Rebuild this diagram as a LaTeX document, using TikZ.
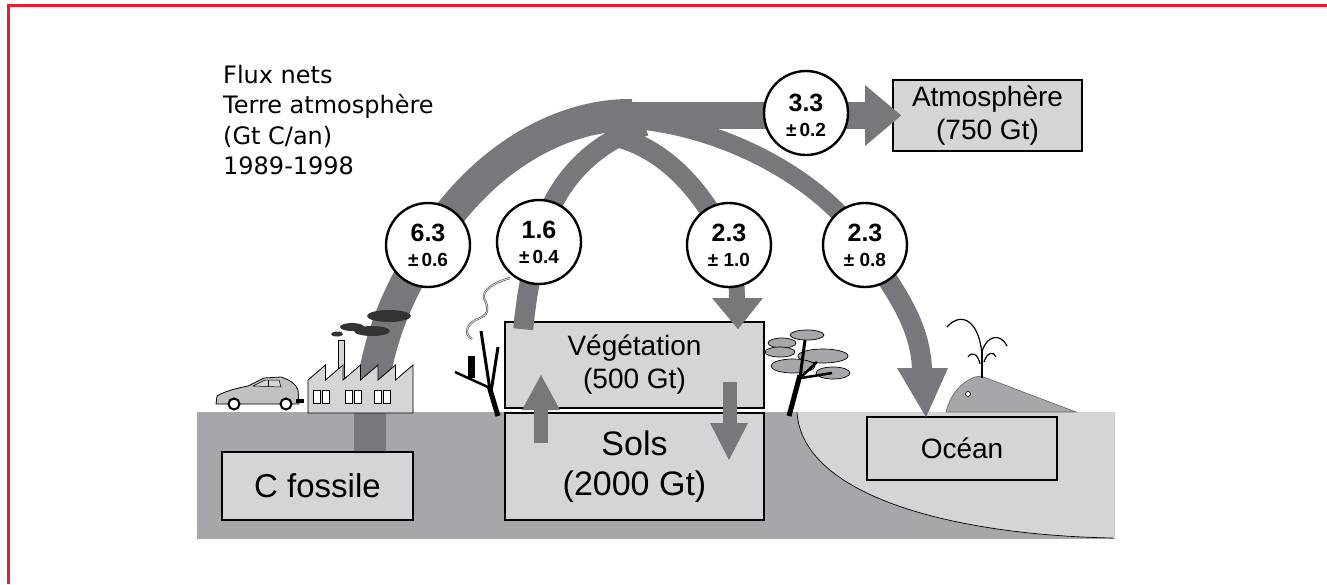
\documentclass[tikz,border=0pt]{standalone}
\usepackage{fontspec}
\setmainfont{Liberation Sans}
\newfontfamily\djv{DejaVu Sans}
\usetikzlibrary{calc}
\definecolor{flowc}{HTML}{77787B}
\definecolor{grnd}{HTML}{A6A7AA}
\definecolor{lgr}{HTML}{D4D5D7}
\definecolor{redf}{HTML}{EC1C2E}
\definecolor{smk}{HTML}{333333}
\begin{document}
\begin{tikzpicture}[x=1pt,y=-1pt,
  box/.style={draw=black, line width=1.6pt, fill=lgr, inner sep=0pt, align=center},
  bubble/.style={circle, draw=black, line width=2.4pt, fill=white, minimum size=84pt, inner sep=0pt},
  band/.style={draw=flowc, line cap=butt, line join=round},
  head/.style={fill=flowc},
  numtxt/.style={inner sep=0pt, font=\fontsize{25}{28}\selectfont\bfseries},
  errtxt/.style={inner sep=0pt, font=\fontsize{19}{22}\selectfont\bfseries},
  leaf/.style={fill=grnd, draw=black, line width=0.7pt}
]
\useasboundingbox (0,0) rectangle (1327,584);
\fill[white] (0,0) rectangle (1327,584);
% red frame
\draw[redf, line width=2.6pt] (7,5.6) -- (1327,5.6);
\draw[redf, line width=2.6pt] (8.3,4.3) -- (8.3,584);

% ground and ocean
\fill[grnd] (197,412) rectangle (1115,539);
\fill[lgr] (797,412) -- (1115,412) -- (1115,538) -- (1113,538) .. controls (950,535) and (802,495) .. (797,412) -- cycle;
\draw[black, line width=0.7pt] (797,412) .. controls (802,495) and (950,535) .. (1113,538);

% circle centres
\coordinate (p63) at (428,245);
\coordinate (p16) at (539,242);
\coordinate (p23a) at (729,245);
\coordinate (p23b) at (865,245);
\coordinate (p33) at (806,113);

% boxes
\node[box, minimum width=191pt, minimum height=68pt, font=\fontsize{33}{38}\selectfont] (fos) at (317.5,486) {C fossile};
\node[box, minimum width=259pt, minimum height=86pt, font=\fontsize{28}{33}\selectfont] (veg) at (634.5,365) {Végétation\\(500 Gt)};
\node[box, minimum width=259pt, minimum height=107pt, font=\fontsize{34}{40}\selectfont] (sol) at (634.5,466.5) {Sols\\(2000 Gt)};
\node[box, minimum width=190pt, minimum height=63pt, font=\fontsize{28}{33}\selectfont] (oce) at (962,448.5) {Océan};
\node[box, minimum width=189pt, minimum height=71pt, font=\fontsize{28}{33}\selectfont] (atm) at (987.5,115.5) {Atmosphère\\(750 Gt)};

% main flow 6.3 -> 3.3
\draw[band, line width=32pt] ($(fos.north)+(52.5,0)$) -- (370,412) .. controls (375,340) and (400,290) .. (p63) .. controls (480,160) and (560,114) .. (632,115);
\draw[band, line width=27pt] (615,115) -- (866,115);
\fill[head] (865,85) -- ($(atm.west)+(9,0)$) -- (865,146) -- cycle;
% 1.6 branch
\draw[band, line width=20pt] ($(veg.north west)+(19,8)$) .. controls (526,300) and (531,270) .. (p16) .. controls (550,192) and (585,145) .. (645,126);
% 2.3 (1.0) branch
\draw[band, line width=20pt] (612,136) .. controls (660,146) and (700,185) .. (p23a);
\draw[band, line width=16pt] (p23a) .. controls (734,265) and (737,280) .. (737,299);
\fill[head] (712,298) -- (763,298) -- ($(veg.north)+(103.5,8)$) -- cycle;
% 2.3 (0.8) branch
\draw[band, line width=18pt] (645,121) .. controls (735,132) and (825,183) .. (p23b);
\draw[band, line width=20pt] (p23b) .. controls (890,285) and (920,320) .. (922,369);
\fill[head] (897,368) -- (948,368) -- ($(oce.north)+(-36,1)$) -- cycle;
% soil <-> vegetation
\draw[band, line width=14pt] (541,443) -- (541,409);
\fill[head] (522,410) -- (560,410) -- (541,375) -- cycle;
\draw[band, line width=14pt] (730,382) -- (730,424);
\fill[head] (710,423) -- (748,423) -- (729,460) -- cycle;

% factory
\filldraw[fill=lgr, draw=black, line width=0.8pt] (338,340) rectangle (344,380);
\filldraw[fill=lgr, draw=black, line width=0.8pt, line join=miter] (308,413) -- (308,380) -- (325.5,365) -- (325.5,380) -- (343,365) -- (343,380) -- (360.5,365) -- (360.5,380) -- (378,365) -- (378,380) -- (395.5,365) -- (395.5,380) -- (413,365) -- (413,413) -- cycle;
\foreach \wx in {313,322,345,354,374,383}
  \filldraw[fill=white, draw=black, line width=0.9pt] (\wx,390) rectangle ++(7,13);
% smoke
\fill[smk] (337,334) ellipse [x radius=6pt, y radius=2.5pt];
\fill[smk] (352,327) ellipse [x radius=12pt, y radius=4pt];
\fill[smk] (372,331) ellipse [x radius=18pt, y radius=5pt];
\fill[smk] (389,316) ellipse [x radius=22pt, y radius=6pt];

% car
\filldraw[fill=grnd!70!white, draw=black, line width=0.8pt] (216,404) -- (217,396) .. controls (225,391) and (238,388) .. (248,386) -- (264,378) -- (281,377) .. controls (290,380) and (296,384) .. (298,390) -- (299,404) -- cycle;
\filldraw[fill=lgr, draw=black, line width=0.5pt] (253,386) -- (265,380) -- (279,380) -- (281,387) -- cycle;
\draw[black, line width=0.5pt] (268,380) -- (268,387);
\filldraw[fill=white, draw=black, line width=2pt] (234,404) circle [radius=5.5pt];
\filldraw[fill=white, draw=black, line width=2pt] (286,404) circle [radius=5.5pt];
\fill[black] (296,399) rectangle (304,403);

% dead tree and smoke wisp
\draw[black, line width=5pt] (498,416) -- (489,386);
\draw[black, line width=3pt] (490,390) -- (481,331);
\draw[black, line width=3pt] (491,392) -- (498,347);
\draw[black, line width=2.5pt] (490,388) -- (455,372);
\fill[black] (468,356) rectangle (475,378);
\draw[black!75, double=lgr, double distance=1pt, line width=0.5pt] (472,339) .. controls (462,333) and (468,322) .. (480,318) .. controls (492,313) and (486,303) .. (484,298) .. controls (482,290) and (495,282) .. (510,278);

% right tree
\filldraw[leaf] (807,335) ellipse [x radius=17pt, y radius=5pt];
\filldraw[leaf] (782,343) ellipse [x radius=14pt, y radius=5pt];
\filldraw[leaf] (780,352) ellipse [x radius=15pt, y radius=5pt];
\filldraw[leaf] (823,356) ellipse [x radius=25pt, y radius=7pt];
\filldraw[leaf] (793,366) ellipse [x radius=22pt, y radius=7pt];
\filldraw[leaf] (833,373) ellipse [x radius=17pt, y radius=6pt];
\draw[black, line width=5pt] (789,416) -- (800,375);
\draw[black, line width=3pt] (800,378) -- (805,340);
\draw[black, line width=2.5pt] (801,378) -- (832,373);
\draw[black, line width=2.5pt] (800,378) -- (817,362);

% whale
\filldraw[fill=grnd, draw=grnd!60!black, line width=0.6pt] (946,412) .. controls (950,396) and (960,382) .. (975,377) -- (981,376) -- (1076,412) -- cycle;
\filldraw[fill=white, draw=black, line width=0.6pt] (968,394) circle [radius=2.5pt];
\draw[black, line width=1.2pt] (982,378) -- (982,352);
\draw[black, line width=1.2pt] (982,356) .. controls (980,322) and (962,310) .. (947,327);
\draw[black, line width=1.2pt] (982,352) .. controls (986,336) and (1000,332) .. (1007,346);
\draw[black, line width=1.2pt] (980,364) .. controls (978,354) and (972,351) .. (968,357);
\draw[black, line width=1.2pt] (984,362) .. controls (987,352) and (994,351) .. (996,357);

% circles
\node[bubble] (c63) at (p63) {};
\node[bubble] (c16) at (p16) {};
\node[bubble] (c23a) at (p23a) {};
\node[bubble] (c23b) at (p23b) {};
\node[bubble] (c33) at (p33) {};
\node[numtxt] (n63) at ($(c63)+(0,-12)$) {6.3};
\node[errtxt] (e63) at ($(c63)+(0,15)$) {±\,0.6};
\node[numtxt] (n16) at ($(c16)+(0,-12)$) {1.6};
\node[errtxt] (e16) at ($(c16)+(0,15)$) {±\,0.4};
\node[numtxt] (n23a) at ($(c23a)+(0,-12)$) {2.3};
\node[errtxt] (e23a) at ($(c23a)+(0,15)$) {± 1.0};
\node[numtxt] (n23b) at ($(c23b)+(0,-12)$) {2.3};
\node[errtxt] (e23b) at ($(c23b)+(0,15)$) {± 0.8};
\node[numtxt] (n33) at ($(c33)+(0,-10)$) {3.3};
\node[errtxt] (e33) at ($(c33)+(0,17)$) {±\,0.2};

% legend text
\node[anchor=north west, inner sep=0pt, align=left, font=\djv\fontsize{24}{30.5}\selectfont] (lbl) at (223,65) {Flux nets\\Terre atmosphère\\(Gt C/an)\\1989-1998};
\end{tikzpicture}
\end{document}
